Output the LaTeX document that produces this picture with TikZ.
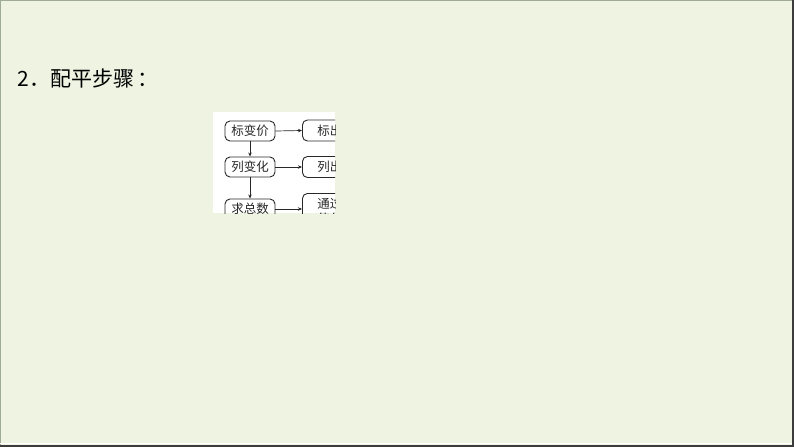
\documentclass[tikz,border=0pt]{standalone}
\usepackage{fontspec}
\setmainfont{Noto Sans CJK SC}
\usetikzlibrary{arrows.meta}
\definecolor{bgc}{RGB}{238,243,226}
\definecolor{lineg}{RGB}{160,171,150}
\definecolor{darkf}{RGB}{60,60,60}
\definecolor{inkc}{RGB}{40,40,40}
\tikzset{
  stepbox/.style={draw=inkc, line width=0.9pt, rounded corners=5pt, minimum width=50pt, minimum height=20pt, inner sep=0pt, font=\fontsize{12.5}{14}\selectfont, text=inkc},
  rbox/.style={draw=inkc, line width=0.9pt, rounded corners=5pt, minimum width=90pt, minimum height=21pt, inner sep=0pt, anchor=west, font=\fontsize{12.5}{14}\selectfont, text=inkc},
  arr/.style={draw=inkc, line width=0.7pt, -{Stealth[length=4pt,width=3.5pt]}}
}
\begin{document}
\begin{tikzpicture}[x=1pt,y=-1pt]
\useasboundingbox (0,0) rectangle (794,447);
\fill[bgc] (0,0) rectangle (794,447);
\draw[lineg, line width=1.2pt] (0.6,447) -- (0.6,0.6) -- (794,0.6);
\draw[white, line width=1pt] (0,443.5) -- (792,443.5);
\fill[darkf] (792,0) rectangle (794,447);
\fill[darkf] (0,445) rectangle (794,447);
\node[anchor=base west, font=\fontsize{21}{24}\selectfont, text=black, inner sep=0pt] (title) at (17,86) {2\hspace{1pt}．配平步骤\hspace{3pt}：};
\fill[white] (213,112) rectangle (335,213);
\begin{scope}
\clip (213,112) rectangle (335,213);
\node[stepbox] (a) at (250,131) {标变价};
\node[stepbox] (b) at (250,167) {列变化};
\node[stepbox] (c) at (250,209) {求总数};
\node[rbox, text width=80pt, align=left] (ra) at (302,130.5) {\hspace*{10pt}标出};
\node[rbox, text width=80pt, align=left] (rb) at (302,167) {\hspace*{10pt}列出};
\node[rbox, minimum height=36pt, text width=80pt, align=left, anchor=north west, font=\fontsize{12.5}{15}\selectfont] (rc) at (302,193) {\hspace*{10pt}通过\\\hspace*{10pt}使化};
\draw[arr] (a.east) -- (ra.west);
\draw[arr] (b.east) -- (rb.west);
\draw[arr] (c.east) -- (rc.west |- c.east);
\draw[arr] (a.south) -- (b.north);
\draw[arr] (b.south) -- (c.north);
\end{scope}
\end{tikzpicture}
\end{document}
